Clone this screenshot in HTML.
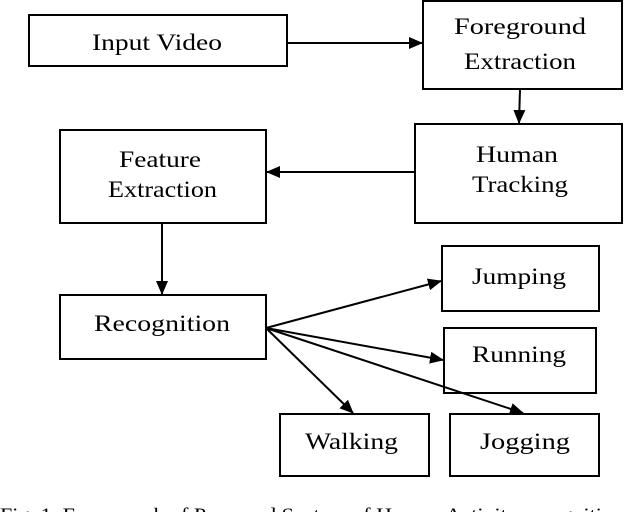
<!DOCTYPE html>
<html><head><style>html,body{margin:0;padding:0;background:#fff;overflow:hidden}</style></head>
<body>
<svg width="624" height="512" xmlns="http://www.w3.org/2000/svg" font-family="Liberation Serif, serif" font-size="23" fill="none">
<defs><marker id="a" markerWidth="14" markerHeight="12" refX="13" refY="6" orient="auto" markerUnits="userSpaceOnUse"><path d="M0,0 L14,6 L0,12 Z" fill="#000"/></marker></defs>
<g stroke="#000" stroke-width="2">
<rect x="29" y="15" width="258" height="51"/>
<rect x="423" y="1" width="199" height="88"/>
<rect x="415" y="124" width="207" height="99"/>
<rect x="60" y="130" width="206" height="93"/>
<rect x="60" y="295" width="206" height="64"/>
<rect x="442" y="246" width="157" height="65"/>
<rect x="444" y="328" width="152" height="65"/>
<rect x="280" y="414" width="149" height="62"/>
<rect x="450" y="414" width="149" height="62"/>
<g marker-end="url(#a)">
<line x1="287" y1="43" x2="422" y2="43"/>
<line x1="520" y1="89" x2="519" y2="123"/>
<line x1="415" y1="172" x2="267" y2="172"/>
<line x1="162" y1="223" x2="162" y2="294"/>
<line x1="266" y1="328" x2="441" y2="281"/>
<line x1="266" y1="328" x2="443" y2="360"/>
<line x1="266" y1="328" x2="353" y2="413"/>
<line x1="266" y1="328" x2="523" y2="413"/>
</g></g>
<g fill="#000" lengthAdjust="spacingAndGlyphs">
<text x="92" y="50" textLength="130" lengthAdjust="spacingAndGlyphs">Input Video</text>
<text x="454" y="34" textLength="132" lengthAdjust="spacingAndGlyphs">Foreground</text>
<text x="464" y="69" textLength="112" lengthAdjust="spacingAndGlyphs">Extraction</text>
<text x="476" y="162" textLength="82" lengthAdjust="spacingAndGlyphs">Human</text>
<text x="472" y="192" textLength="96" lengthAdjust="spacingAndGlyphs">Tracking</text>
<text x="119" y="167" textLength="82" lengthAdjust="spacingAndGlyphs">Feature</text>
<text x="108" y="197" textLength="109" lengthAdjust="spacingAndGlyphs">Extraction</text>
<text x="94" y="331" textLength="136" lengthAdjust="spacingAndGlyphs">Recognition</text>
<text x="472" y="284" textLength="94" lengthAdjust="spacingAndGlyphs">Jumping</text>
<text x="472" y="362" textLength="94" lengthAdjust="spacingAndGlyphs">Running</text>
<text x="305" y="449" textLength="93" lengthAdjust="spacingAndGlyphs">Walking</text>
<text x="480" y="449" textLength="90" lengthAdjust="spacingAndGlyphs">Jogging</text>
</g>
<text x="0" y="521" fill="#000" font-size="19" textLength="624" lengthAdjust="spacingAndGlyphs">Fig. 1. Framework of Proposed System of Human Activity recognition</text>
</svg>
</body></html>
